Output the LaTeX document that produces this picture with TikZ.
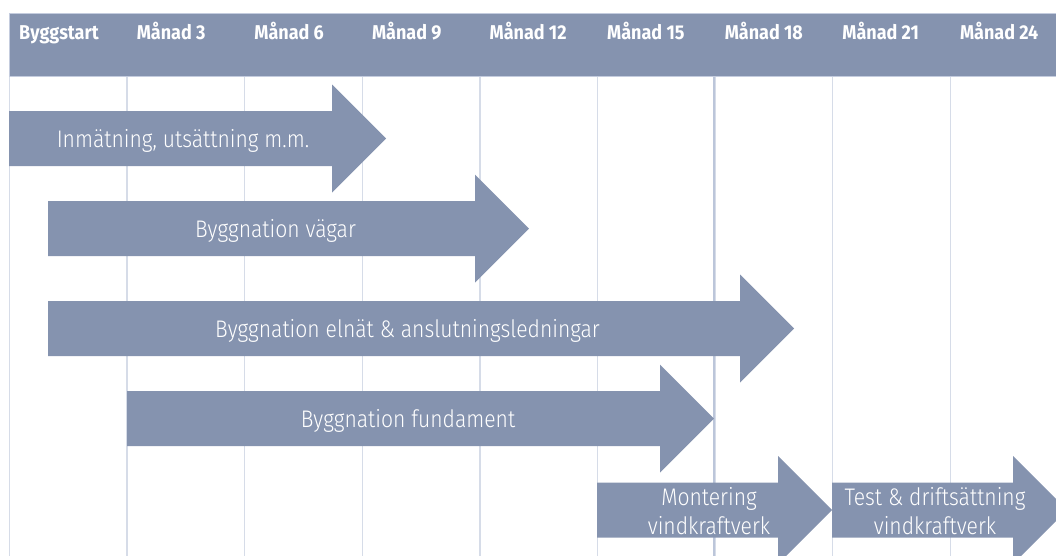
\documentclass[tikz,border=0pt]{standalone}
\usepackage{fontspec}
\setmainfont{Fira Sans}
\newfontfamily\hdrfont{Fira Sans}[FakeStretch=0.9]
\newfontfamily\barfont{Fira Sans Light}[FakeStretch=0.88]
\usepackage{xcolor}
\definecolor{cBar}{RGB}{133,147,175}
\definecolor{cGrid}{RGB}{214,220,232}
\definecolor{cGridDk}{RGB}{188,198,218}
\definecolor{cEdge}{RGB}{196,204,222}
\tikzset{
	hdrband/.style={fill=cBar, draw=cEdge, line width=1pt},
	gline/.style={draw=cGrid, line width=1.4pt},
	hdrlbl/.style={anchor=base west, inner sep=0pt, text=white,
		font=\hdrfont\bfseries\fontsize{20}{24}\selectfont},
	barshape/.style={fill=cBar},
	barlbl/.style={anchor=base, inner sep=0pt, align=center, text=white,
		font=\barfont\fontsize{24}{29}\selectfont},
}

\begin{document}
\begin{tikzpicture}[x=1pt, y=-1pt]
	\useasboundingbox (0,0) rectangle (1056,555);
	\clip (0,0) rectangle (1056,555);
	\foreach \k in {0,...,8}
		\draw[gline] (9.4+117.6*\k,76) -- (9.4+117.6*\k,560);
	\draw[gline, draw=cGridDk, line width=1.2pt] (714,76) -- (714,560);
	\foreach \xa/\xb/\yc/\xt/\ty/\nm/\txt in {
		9/332/138.5/183/8.5/mat/{Inmätning, utsättning m.m.},
		48/475/228.7/275.5/8.5/vag/{Byggnation vägar},
		48/740/328.5/407.5/8.5/eln/{Byggnation elnät \& anslutningsledningar},
		127/660/418.7/408/8.5/fund/{Byggnation fundament},
		597/778/510/709/24/mont/{Montering\\vindkraftverk},
		832/1013/510/935/24/test/{Test \& driftsättning\\vindkraftverk}}
	{
		\fill[barshape] (\xa,\yc-27.5) -- (\xb,\yc-27.5) -- (\xb,\yc-54)
			-- (\xb+54,\yc) -- (\xb,\yc+54) -- (\xb,\yc+27.5)
			-- (\xa,\yc+27.5) -- cycle;
		\node[barlbl] (\nm) at (\xt,\yc+\ty) {\txt};
	}
	\draw[hdrband] (9,13.5) rectangle (1060,76.5);
	\node[hdrlbl] (m0) at (19,39.7) {Byggstart};
	\foreach \k in {1,...,8}
		\node[hdrlbl] (m\k) at (19+117.6*\k,39.7) {Månad \the\numexpr3*\k\relax};
\end{tikzpicture}
\end{document}
